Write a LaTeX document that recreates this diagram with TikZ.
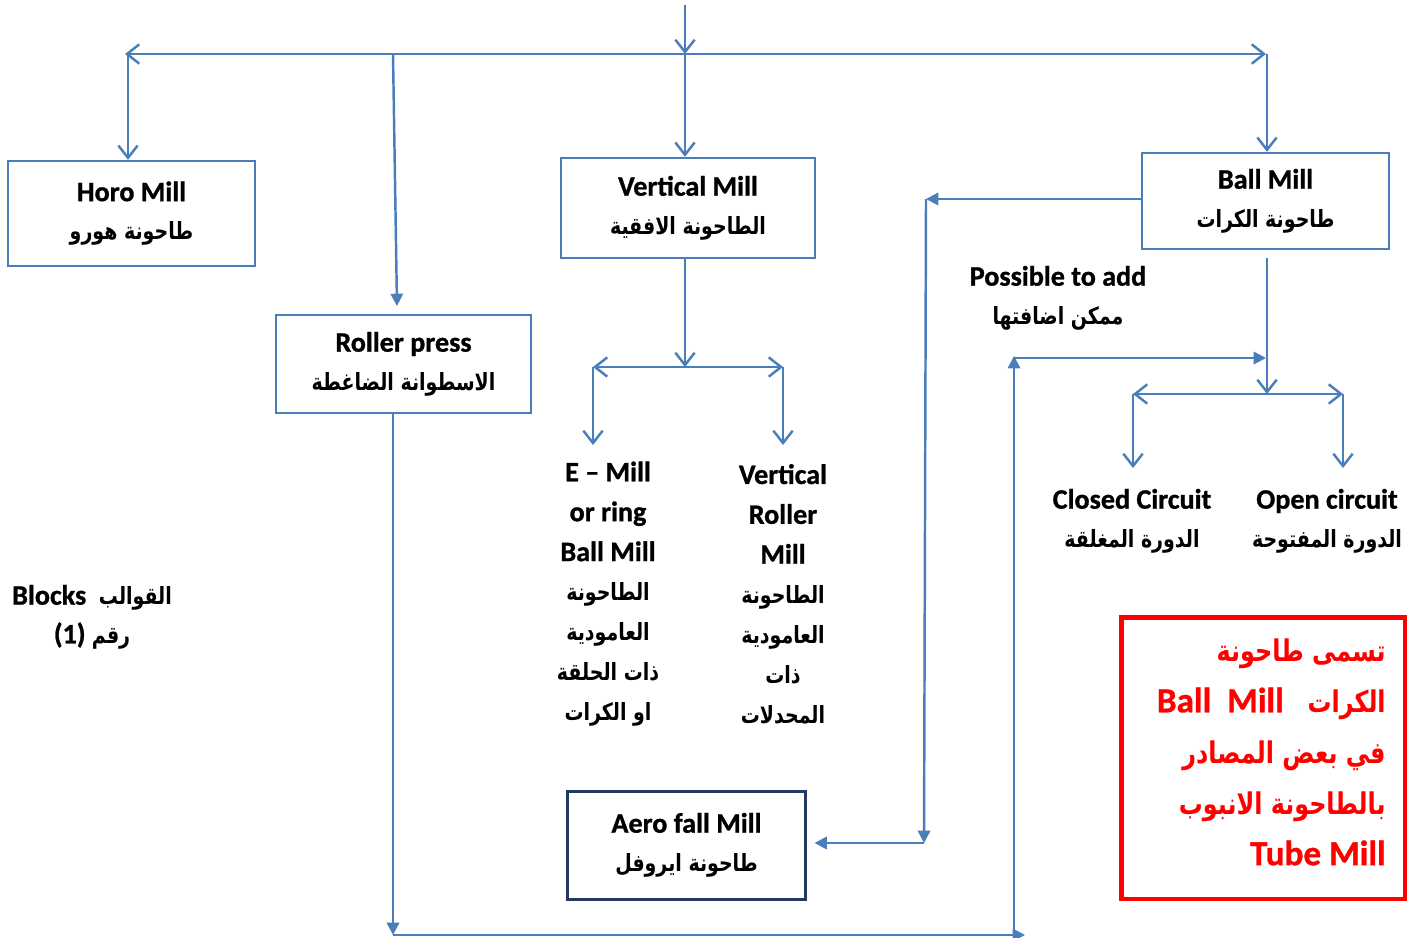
\documentclass[tikz,border=0pt]{standalone}
\usepackage{fontspec}
\setmainfont{Carlito}[BoldFont={Carlito Bold},BoldFeatures={FakeBold=1}]
\newfontfamily\arabicfont[Script=Arabic,FakeStretch=0.8]{DejaVu Sans}
\TeXXeTstate=1
\usetikzlibrary{arrows.meta}
\definecolor{lineblue}{RGB}{74,126,187}
\definecolor{navy}{RGB}{36,56,96}
\setlength{\lineskiplimit}{-50pt}
\newcommand{\artext}[1]{{\arabicfont\fontsize{13.5}{13.5}\selectfont\beginR #1\endR}}
\newcommand{\arred}[1]{{\arabicfont\fontsize{17}{17}\selectfont\beginR #1\endR}}

\begin{document}
\begin{tikzpicture}[x=0.02cm,y=-0.02cm,
  every node/.style={font=\bfseries\fontsize{16}{22}\selectfont,align=center,inner sep=0pt},
  box/.style={draw=lineblue,line width=1.4pt},
  barb/.style={draw=lineblue,line width=1.4pt,-{Straight Barb[length=7pt,width=11pt]}},
  barbs/.style={draw=lineblue,line width=1.4pt,{Straight Barb[length=7pt,width=11pt]}-{Straight Barb[length=7pt,width=11pt]}},
  flow/.style={draw=lineblue,line width=1.4pt,-{Triangle[length=7pt,width=7pt]}}]
  \useasboundingbox (0,0) rectangle (1415,937);

  \node[box,minimum width=4.94cm,minimum height=2.1cm] (horo) at (131.5,213.5) {Horo Mill\\\artext{طاحونة هورو}};
  \node[box,minimum width=5.1cm,minimum height=1.96cm] (roller) at (403.5,364) {Roller press\\\artext{الاسطوانة الضاغطة}};
  \node[box,minimum width=5.08cm,minimum height=2cm] (vmill) at (688,208) {Vertical Mill\\\artext{الطاحونة الافقية}};
  \node[box,minimum width=4.94cm,minimum height=1.92cm] (ball) at (1265.5,201) {Ball Mill\\\artext{طاحونة الكرات}};
  \node[draw=navy,line width=1.7pt,minimum width=4.78cm,minimum height=2.16cm] (aero) at (686.5,845) {Aero fall Mill\\\artext{طاحونة ايروفل}};

  \node[font=\bfseries\fontsize{16}{22.7}\selectfont] (emill) at (608,594)
    {E -- Mill\\or ring\\Ball Mill\\\artext{الطاحونة}\\\artext{العامودية}\\\artext{ذات الحلقة}\\\artext{او الكرات}};
  \node[font=\bfseries\fontsize{16}{22.7}\selectfont] (vrm) at (783,594)
    {Vertical\\Roller\\Mill\\\artext{الطاحونة}\\\artext{العامودية}\\\artext{ذات}\\\artext{المحدلات}};
  \node (possible) at (1058,298) {Possible to add\\\artext{ممكن اضافتها}};
  \node (closed) at (1132,521) {Closed Circuit\\\artext{الدورة المغلقة}};
  \node (open) at (1327,521) {Open circuit\\\artext{الدورة المفتوحة}};
  \node (blocks) at (92,617) {Blocks\ \ \artext{القوالب}\\(1)~\artext{رقم}};
  \node[draw=red,line width=2.8pt,minimum width=5.68cm,minimum height=5.64cm] (note) at (1263,758) {};
  \node[text=red,align=right,anchor=east,font=\bfseries\fontsize{20}{29}\selectfont] (notetext) at (1386,752)
    {\arred{تسمى طاحونة}\\Ball\ \ Mill\ \ \ \arred{الكرات}\\\arred{في بعض المصادر}\\\arred{بالطاحونة الانبوب}\\Tube Mill};

  \coordinate (src) at (685,5);
  \coordinate (hub) at (685,54);
  \coordinate (lend) at (125,54);
  \coordinate (rend) at (1266,54);
  \coordinate (hh) at (128,54);
  \coordinate (rh) at (393,54);
  \coordinate (rin) at (397,306);
  \coordinate (bh) at (1267,54);
  \coordinate (vhub) at (685,367);
  \coordinate (vl) at (593,367);
  \coordinate (vr) at (783,367);
  \coordinate (ein) at (593,445);
  \coordinate (vrin) at (783,445);
  \coordinate (bhub) at (1267,394);
  \coordinate (bl) at (1133,394);
  \coordinate (br) at (1343,394);
  \coordinate (cin) at (1133,468);
  \coordinate (oin) at (1343,468);
  \coordinate (bout) at (1267,258);
  \coordinate (side) at (926,199);
  \coordinate (sidelow) at (924,843);
  \coordinate (low) at (393,935);
  \coordinate (lowr) at (1025,935);
  \coordinate (up) at (1014,935);
  \coordinate (uptop) at (1014,356);
  \coordinate (addin) at (1266,358);

  \draw[barb] (src) -- (hub);
  \draw[barbs] (lend) -- (rend);
  \draw[barb] (hh) -- (horo.north -| hh);
  \draw[flow] (rh) -- (rin);
  \draw[barb] (hub) -- (vmill.north -| hub);
  \draw[barb] (bh) -- (ball.north -| bh);
  \draw[barb] (vmill.south -| vhub) -- (vhub);
  \draw[barbs] (vl) -- (vr);
  \draw[barb] (vl) -- (ein);
  \draw[barb] (vr) -- (vrin);
  \draw[barb] (bout) -- (bhub);
  \draw[barbs] (bl) -- (br);
  \draw[barb] (bl) -- (cin);
  \draw[barb] (br) -- (oin);
  \draw[flow] (ball.west |- side) -- (side);
  \draw[flow] (side) -- (sidelow);
  \draw[flow] (sidelow) -- ([xshift=0.14cm]aero.east |- sidelow);
  \draw[flow] (roller.south -| low) -- (low);
  \draw[flow] (low) -- (lowr);
  \draw[flow] (up) -- (uptop);
  \draw[flow] (uptop |- addin) -- (addin);
\end{tikzpicture}
\end{document}
